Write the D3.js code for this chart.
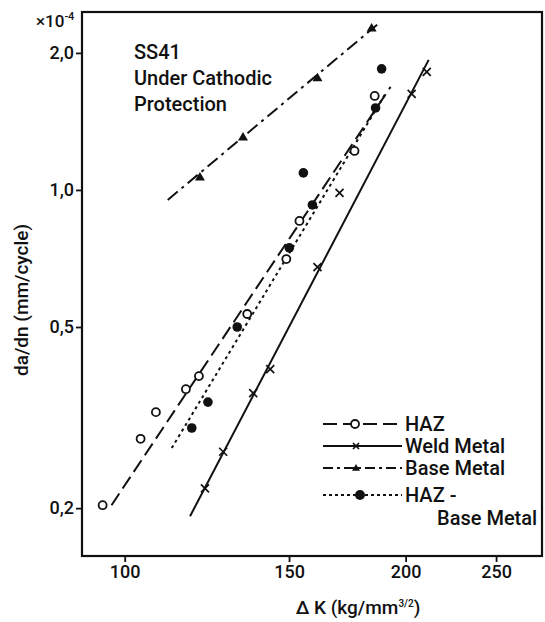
<!DOCTYPE html>
<html><head><meta charset="utf-8">
<script src="https://cdn.jsdelivr.net/npm/d3@7"></script>
<style>
body{margin:0;background:#fff}
svg{display:block}
text{font-family:Roboto,"DejaVu Sans",sans-serif;font-weight:500;fill:#111}
</style>
</head><body>
<svg id="chart" width="545" height="622"></svg>
<script>
// Stress intensity range ΔK (kg/mm^3/2) against crack growth rate da/dn (×10^-4 mm/cycle)
const hazK = [94.7, 104.0, 108.0, 116.3, 120.1, 135.3, 149.0, 153.9, 176.3, 185.3];
const hazRate = [0.203, 0.284, 0.325, 0.365, 0.390, 0.534, 0.705, 0.855, 1.218, 1.609];
const weldK = [121.9, 127.5, 137.3, 143.2, 160.9, 169.9, 203.0, 210.7];
const weldRate = [0.221, 0.266, 0.358, 0.404, 0.677, 0.985, 1.626, 1.817];
const baseK = [120.4, 133.9, 160.9, 183.9];
const baseRate = [1.068, 1.308, 1.763, 2.270];
const hazBaseK = [118.0, 122.8, 132.0, 150.1, 155.4, 158.9, 185.7, 188.5];
const hazBaseRate = [0.300, 0.342, 0.500, 0.746, 1.090, 0.927, 1.514, 1.845];

// Fitted trend lines, start and end
const hazFitK = [96.8, 192.7], hazFitRate = [0.203, 1.684];
const weldFitK = [117.5, 211.7], weldFitRate = [0.192, 1.931];
const baseFitK = [111.2, 188.0], baseFitRate = [0.951, 2.340];
const hazBaseFitK = [112.3, 190.8], hazBaseFitRate = [0.271, 1.642];

const xTicks = [100, 150, 200, 250];
const yTicks = [0.2, 0.5, 1.0, 2.0];
const yTickLabels = ["0,2", "0,5", "1,0", "2,0"];
const legendLabels = ["HAZ", "Weld Metal", "Base Metal", "HAZ -"];

const svg = d3.select("#chart");
const L = 82, R = 542, T = 12, B = 556;

const x = d3.scaleLog().domain([90, 280]).range([L, R]);
const y = d3.scaleLog().domain([0.157, 2.46]).range([B, T]);

// frame
svg.append("rect").attr("x", L).attr("y", T).attr("width", R - L).attr("height", B - T)
  .attr("fill", "none").attr("stroke", "#111").attr("stroke-width", 2.2);

// axes
const xAxis = svg.append("g").attr("transform", `translate(0,${B})`)
  .call(d3.axisBottom(x).tickValues(xTicks).tickFormat(d3.format("d")).tickSize(6).tickPadding(3));
const yAxis = svg.append("g").attr("transform", `translate(${L},0)`)
  .call(d3.axisLeft(y).tickValues(yTicks).tickFormat((d, i) => yTickLabels[i]).tickSize(6).tickPadding(2));
[xAxis, yAxis].forEach(g => {
  g.select(".domain").remove();
  g.selectAll(".tick line").attr("stroke", "#111").attr("stroke-width", 1.8);
  g.selectAll(".tick text").attr("font-size", 18).attr("fill", "#111")
    .attr("font-family", "Roboto, DejaVu Sans, sans-serif").attr("font-weight", 500);
});

// scale multiplier
const mult = svg.append("text").attr("x", 36).attr("y", 27).attr("font-size", 17);
mult.append("tspan").text("×10");
mult.append("tspan").attr("dy", -7).attr("font-size", 11).text("-4");

// axis titles
svg.append("text").attr("transform", "translate(28,300) rotate(-90)")
  .attr("text-anchor", "middle").attr("font-size", 19).text("da/dn (mm/cycle)");
const xt = svg.append("text").attr("x", 358).attr("y", 614).attr("text-anchor", "middle").attr("font-size", 19);
xt.append("tspan").text("Δ K (kg/mm");
xt.append("tspan").attr("dy", -7).attr("font-size", 10).text("3/2");
xt.append("tspan").attr("dy", 7).text(")");

// annotation
const note = svg.append("text").attr("font-size", 20);
note.append("tspan").attr("x", 134).attr("y", 59).text("SS41");
note.append("tspan").attr("x", 134).attr("y", 85).text("Under Cathodic");
note.append("tspan").attr("x", 134).attr("y", 111).text("Protection");

const plot = svg.append("g");

function fitLine(ks, rs, dash) {
  plot.append("line")
    .attr("x1", x(ks[0])).attr("y1", y(rs[0]))
    .attr("x2", x(ks[1])).attr("y2", y(rs[1]))
    .attr("stroke", "#111").attr("stroke-width", 2)
    .attr("stroke-dasharray", dash);
}
fitLine(hazFitK, hazFitRate, "14,6");
fitLine(weldFitK, weldFitRate, null);
fitLine(baseFitK, baseFitRate, "13,5,3,5");
fitLine(hazBaseFitK, hazBaseFitRate, "3,3.5");

const zip = (a, b) => a.map((v, i) => [v, b[i]]);

function drawCircle(g, cx, cy) {
  g.append("circle").attr("cx", cx).attr("cy", cy).attr("r", 4)
    .attr("fill", "#fff").attr("stroke", "#111").attr("stroke-width", 1.8);
}
function drawDot(g, cx, cy, r) {
  g.append("circle").attr("cx", cx).attr("cy", cy).attr("r", r || 4.8).attr("fill", "#111");
}
function drawCross(g, cx, cy, s) {
  s = s || 4;
  g.append("path").attr("d", `M${cx - s},${cy - s}L${cx + s},${cy + s}M${cx - s},${cy + s}L${cx + s},${cy - s}`)
    .attr("stroke", "#111").attr("stroke-width", 1.7).attr("fill", "none");
}
function drawTri(g, cx, cy, s) {
  s = s || 5;
  g.append("path").attr("d", `M${cx},${cy - s}L${cx + s},${cy + s * 0.7}L${cx - s},${cy + s * 0.7}Z`)
    .attr("fill", "#111");
}

zip(hazK, hazRate).forEach(([k, r]) => drawCircle(plot, x(k), y(r)));
zip(weldK, weldRate).forEach(([k, r]) => drawCross(plot, x(k), y(r)));
zip(baseK, baseRate).forEach(([k, r]) => drawTri(plot, x(k), y(r)));
zip(hazBaseK, hazBaseRate).forEach(([k, r]) => drawDot(plot, x(k), y(r)));

// legend
const lg = svg.append("g");
const rows = [424, 446, 468, 495];
const dashes = ["14,6", null, "10,4,3,4", "3,3"];
rows.forEach((ry, i) => {
  lg.append("line").attr("x1", 323).attr("x2", 402).attr("y1", ry).attr("y2", ry)
    .attr("stroke", "#111").attr("stroke-width", 2).attr("stroke-dasharray", dashes[i]);
  lg.append("text").attr("x", 405).attr("y", ry + 7).attr("font-size", 20).text(legendLabels[i]);
});
drawCircle(lg, 355, rows[0]);
drawCross(lg, 356, rows[1], 3);
drawTri(lg, 356, rows[2], 4);
drawDot(lg, 360, rows[3], 5);
lg.append("text").attr("x", 437).attr("y", 525).attr("font-size", 20).text("Base Metal");
</script>
</body></html>
